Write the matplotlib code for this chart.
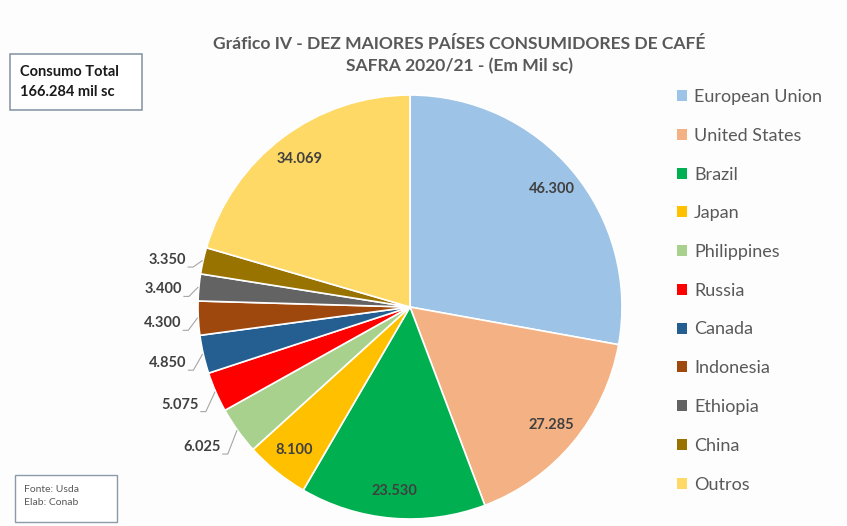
import numpy as np
import matplotlib.pyplot as plt
from matplotlib.patches import Rectangle

# data
countries = ['European Union', 'United States', 'Brazil', 'Japan', 'Philippines',
             'Russia', 'Canada', 'Indonesia', 'Ethiopia', 'China', 'Outros']
consumption = [46.300, 27.285, 23.530, 8.100, 6.025, 5.075, 4.850, 4.300, 3.400, 3.350, 34.069]
value_labels = ['46.300', '27.285', '23.530', '8.100', '6.025', '5.075',
                '4.850', '4.300', '3.400', '3.350', '34.069']
label_inside = [True, True, True, True, False, False, False, False, False, False, True]
colors = ['#9DC3E6', '#F4B183', '#00B050', '#FFC000', '#A9D18E', '#FF0000',
          '#255E91', '#9E480E', '#636363', '#997300', '#FFD966']

title = 'Gráfico IV - DEZ MAIORES PAÍSES CONSUMIDORES DE CAFÉ\nSAFRA 2020/21 - (Em Mil sc)'
total_text = 'Consumo Total\n166.284 mil sc'
source_text = 'Fonte: Usda\nElab: Conab'

plt.rcParams['font.family'] = ['Lato', 'DejaVu Sans']

W, H = 847, 526
fig = plt.figure(figsize=(W / 100, H / 100), dpi=100)
fig.patch.set_facecolor('#fdfdfe')
ax = fig.add_axes([0, 0, 1, 1])
ax.set_facecolor('#fdfdfe')

# pie in pixel units (y measured upward)
cx, cy, r = 410, H - 307, 212
wedges, _ = ax.pie(consumption, colors=colors, startangle=90, counterclock=False,
                   radius=r, center=(cx, cy),
                   wedgeprops=dict(edgecolor='white', linewidth=1.2))
ax.set_xlim(0, W)
ax.set_ylim(0, H)
ax.set_aspect('equal')
ax.axis('off')

label_color = '#404040'
for w, txt, inside in zip(wedges, value_labels, label_inside):
    ang = np.deg2rad((w.theta1 + w.theta2) / 2)
    if inside:
        x = cx + 0.87 * r * np.cos(ang)
        y = cy + 0.87 * r * np.sin(ang)
        ax.text(x, y, txt, ha='center', va='center', fontsize=10.5,
                fontweight='bold', color=label_color)
    else:
        ex = cx + r * np.cos(ang)
        ey = cy + r * np.sin(ang)
        # small slices: label outside, spread a little away from the middle
        tx, ty = ex - 17, cy + (ey - cy) * 1.1 - 4
        ax.text(tx, ty, txt, ha='right', va='center', fontsize=10.5,
                fontweight='bold', color=label_color)
        ax.plot([tx + 2, tx + 7, ex - 1], [ty - 7, ty - 7, ey],
                color='#a6a6a6', linewidth=0.8)

# title
fig.text(459 / W, 1 - 55 / H, title, ha='center', va='center', fontsize=12.6,
         fontweight='bold', color='#595959', linespacing=1.5)

# total box
ax.add_patch(Rectangle((10, H - 110), 132, 56, facecolor='white',
                       edgecolor='#8c9aa8', linewidth=1.2))
ax.text(20, H - 82, total_text, ha='left', va='center', fontsize=10.5,
        fontweight='bold', color='#1a1a1a', linespacing=1.5)

# source box
ax.add_patch(Rectangle((15, H - 522), 102, 47, facecolor='white',
                       edgecolor='#8c9aa8', linewidth=1.0))
ax.text(24, H - 496, source_text, ha='left', va='center', fontsize=7.5,
        color='#595959', linespacing=1.5)

# legend
leg = fig.legend(wedges, countries, loc='upper left',
                 bbox_to_anchor=(677 / W, 1 - 89 / H),
                 frameon=False, fontsize=13, handlelength=0.55, handleheight=0.55,
                 handletextpad=0.4, labelspacing=1.26, borderpad=0, borderaxespad=0)
for t in leg.get_texts():
    t.set_color('#595959')
for h in leg.legend_handles:
    h.set_edgecolor('none')

fig.savefig('out.png', dpi=100, facecolor=fig.get_facecolor())
